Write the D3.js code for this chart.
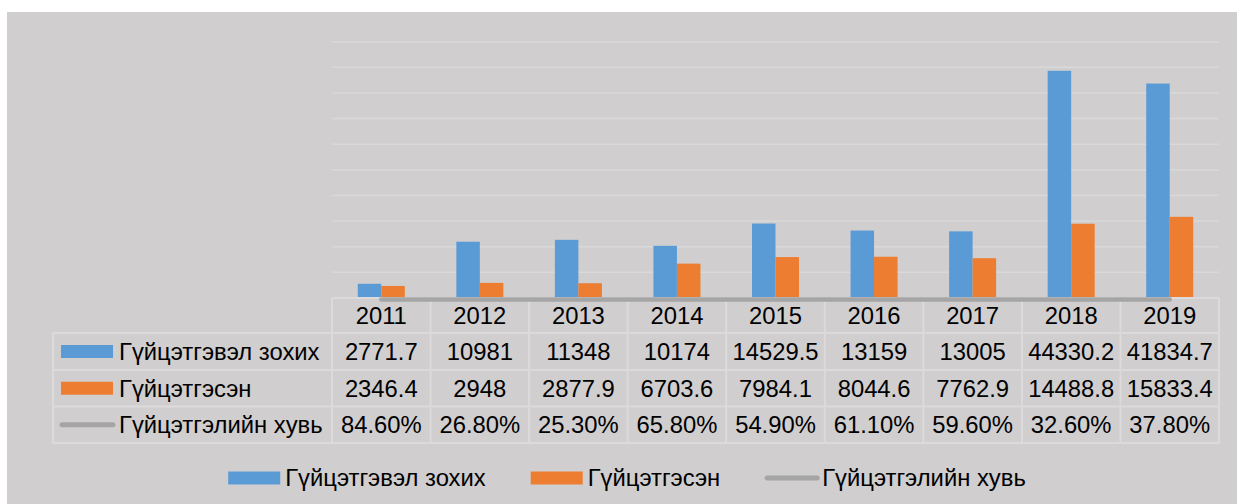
<!DOCTYPE html>
<html>
<head>
<meta charset="utf-8">
<script src="https://cdn.jsdelivr.net/npm/d3@7"></script>
<style>
  body { margin: 0; background: #ffffff; }
  svg text { font-family: "Liberation Sans", Arial, sans-serif; font-size: 23.8px; fill: #000; }
</style>
</head>
<body>
<svg id="chart"></svg>
<script>
// Data
const years = ["2011", "2012", "2013", "2014", "2015", "2016", "2017", "2018", "2019"];
const planned = [2771.7, 10981, 11348, 10174, 14529.5, 13159, 13005, 44330.2, 41834.7];
const done = [2346.4, 2948, 2877.9, 6703.6, 7984.1, 8044.6, 7762.9, 14488.8, 15833.4];
const percent = [0.846, 0.268, 0.253, 0.658, 0.549, 0.611, 0.596, 0.326, 0.378];
const seriesNames = ["Гүйцэтгэвэл зохих", "Гүйцэтгэсэн", "Гүйцэтгэлийн хувь"];
const colors = ["#5b9bd5", "#ed7d31", "#a5a5a5"];

// Chart Dimensions
const width = 1237;
const height = 504;
const plot = { left: 332, right: 1219, top: 41.7, bottom: 298 };
const rowH = [35, 37, 36.5, 36.5];
const labelLeft = 53;

const svg = d3.select("#chart").attr("width", width).attr("height", height);

// Background
svg.append("rect")
  .attr("x", 7).attr("y", 12)
  .attr("width", width - 7).attr("height", height - 12)
  .attr("fill", "#d0cece");

// Scales
const x = d3.scaleBand().domain(years).range([plot.left, plot.right]);
const y = d3.scaleLinear().domain([0, 50000]).range([plot.bottom, plot.top]);
const barW = 23.5;
const xs = d3.scaleBand().domain([0, 1]).range([0, barW * 2]);

// Gridlines
svg.append("g")
  .selectAll("line")
  .data(y.ticks(10).filter((d) => d > 0))
  .enter()
  .append("line")
  .attr("x1", plot.left).attr("x2", plot.right)
  .attr("y1", (d) => y(d)).attr("y2", (d) => y(d))
  .attr("stroke", "#d9d9d9")
  .attr("stroke-width", 1.5);

// Bars
const barData = [planned, done];
barData.forEach((vals, si) => {
  svg.append("g")
    .selectAll("rect")
    .data(vals)
    .enter()
    .append("rect")
    .attr("x", (d, i) => x(years[i]) + x.bandwidth() / 2 - barW + xs(si))
    .attr("y", (d) => y(d))
    .attr("width", xs.bandwidth())
    .attr("height", (d) => y(0) - y(d))
    .attr("fill", colors[si]);
});

// Data table
const rowTop = [plot.bottom];
rowH.forEach((h, i) => rowTop.push(rowTop[i] + h));
const table = svg.append("g");
const gridColor = "#dcdada";

// horizontal lines
table.append("line")
  .attr("x1", plot.left).attr("x2", plot.right)
  .attr("y1", rowTop[0]).attr("y2", rowTop[0])
  .attr("stroke", gridColor).attr("stroke-width", 2);
[1, 2, 3, 4].forEach((r) => {
  table.append("line")
    .attr("x1", labelLeft).attr("x2", plot.right)
    .attr("y1", rowTop[r]).attr("y2", rowTop[r])
    .attr("stroke", gridColor).attr("stroke-width", 2);
});
// vertical lines
table.append("line")
  .attr("x1", labelLeft).attr("x2", labelLeft)
  .attr("y1", rowTop[1]).attr("y2", rowTop[4])
  .attr("stroke", gridColor).attr("stroke-width", 2);
years.concat(["end"]).forEach((yr, i) => {
  const xx = i < years.length ? x(yr) : plot.right;
  table.append("line")
    .attr("x1", xx).attr("x2", xx)
    .attr("y1", rowTop[0]).attr("y2", rowTop[4])
    .attr("stroke", gridColor).attr("stroke-width", 2);
});

// Percent line (same axis, so it sits on the baseline)
const line = d3.line()
  .x((d, i) => x(years[i]) + x.bandwidth() / 2)
  .y((d) => y(d) + 1.5);
svg.append("path")
  .datum(percent)
  .attr("d", line)
  .attr("fill", "none")
  .attr("stroke", colors[2])
  .attr("stroke-width", 4.5)
  .attr("stroke-linecap", "round");

// header years
table.selectAll(".year")
  .data(years)
  .enter()
  .append("text")
  .attr("x", (d) => x(d) + x.bandwidth() / 2)
  .attr("y", (rowTop[0] + rowTop[1]) / 2)
  .attr("dy", "0.35em")
  .attr("text-anchor", "middle")
  .text((d) => d);

// value rows
const pctFmt = d3.format(".2%");
const rows = [
  planned.map((d) => String(d)),
  done.map((d) => String(d)),
  percent.map((d) => pctFmt(d)),
];
rows.forEach((vals, r) => {
  const cy = (rowTop[r + 1] + rowTop[r + 2]) / 2;
  table.append("g")
    .selectAll("text")
    .data(vals)
    .enter()
    .append("text")
    .attr("x", (d, i) => x(years[i]) + x.bandwidth() / 2)
    .attr("y", cy)
    .attr("dy", "0.35em")
    .attr("text-anchor", "middle")
    .text((d) => d);

  // legend key inside table
  if (r < 2) {
    table.append("rect")
      .attr("x", 61).attr("y", cy - 6.5)
      .attr("width", 52).attr("height", 13)
      .attr("fill", colors[r]);
  } else {
    table.append("line")
      .attr("x1", 62).attr("x2", 113)
      .attr("y1", cy).attr("y2", cy)
      .attr("stroke", colors[r]).attr("stroke-width", 5)
      .attr("stroke-linecap", "round");
  }
  table.append("text")
    .attr("x", 119)
    .attr("y", cy)
    .attr("dy", "0.35em")
    .text(seriesNames[r]);
});

// Bottom legend
const legend = svg.append("g");
const legY = 478;
const item = legend.selectAll("g")
  .data(seriesNames)
  .enter()
  .append("g");
item.append("text")
  .attr("x", 57)
  .attr("y", legY)
  .attr("dy", "0.35em")
  .text((d) => d);
item.each(function (d, i) {
  const g = d3.select(this);
  if (i < 2) {
    g.append("rect")
      .attr("x", 0).attr("y", legY - 6.5)
      .attr("width", 52).attr("height", 13)
      .attr("fill", colors[i]);
  } else {
    g.append("line")
      .attr("x1", 2).attr("x2", 52)
      .attr("y1", legY).attr("y2", legY)
      .attr("stroke", colors[i]).attr("stroke-width", 5)
      .attr("stroke-linecap", "round");
  }
});
let cursor = 0;
const offsets = [];
item.each(function () {
  offsets.push(cursor);
  const w = 57 + d3.select(this).select("text").node().getComputedTextLength();
  cursor += w + 45;
});
const totalW = cursor - 45;
const startX = 627 - totalW / 2;
item.attr("transform", (d, i) => `translate(${startX + offsets[i]},0)`);
</script>
</body>
</html>
